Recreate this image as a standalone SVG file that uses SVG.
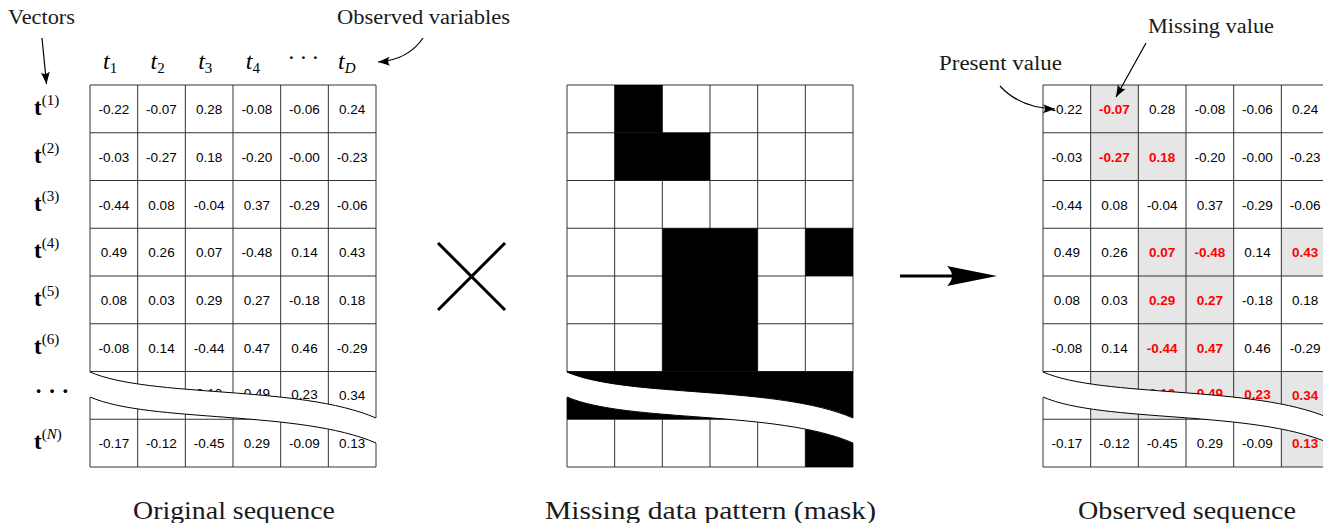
<svg xmlns="http://www.w3.org/2000/svg" xmlns:xlink="http://www.w3.org/1999/xlink" width="1323" height="523" viewBox="0 0 1323 523">
<style>
.num{font-family:"Liberation Sans",Arial,sans-serif;font-size:13.5px;text-anchor:middle;fill:#000}
.miss{font-weight:bold;fill:#ff0000}
.lbl{font-family:"Liberation Serif","Times New Roman",serif;font-size:20px;fill:#1a1a1a}
.cap{font-family:"Liberation Serif","Times New Roman",serif;font-size:26px;fill:#1a1a1a}
.hd{font-family:"Liberation Serif","Times New Roman",serif;font-size:24px;font-style:italic;fill:#000}
.sub{font-size:15px}
.rl{font-family:"Liberation Serif","Times New Roman",serif;font-size:23px;font-weight:bold;fill:#000}
.sup{font-size:15px;font-weight:normal}
.grid{fill:none;stroke:#333;stroke-width:1}
.wavefill{fill:#fff;stroke:none}
.waveline{fill:none;stroke:#000;stroke-width:1}
.conn{fill:none;stroke:#000;stroke-width:1.2}
.gray{fill:#e6e6e6}
.blk{fill:#000}
</style>
<defs>
<marker id="ah" markerUnits="userSpaceOnUse" markerWidth="16" markerHeight="12" refX="0" refY="0" viewBox="-13 -6 14 12" orient="auto">
<path d="M0,0 L-12,-4.5 Q-8,0 -12,4.5 Z" fill="#000"/>
</marker>
<path id="gridp" class="grid" d="M0,0V382M47.67,0V382M95.33,0V382M143,0V382M190.67,0V382M238.33,0V382M286,0V382M0,0H286M0,47.75H286M0,95.5H286M0,143.25H286M0,191H286M0,238.75H286M0,286.5H286M0,334.25H286M0,382H286"/>
<g id="wave">
<path class="wavefill" d="M-1,287 C60,313 210,300 287,333 L287,358.5 C210,325 60,338 -1,312 Z"/>
<path class="waveline" d="M0,287 C60,313 210,300 286,333 M286,358 C210,325 60,338 0,312"/>
</g>
</defs>

<g id="label-vectors"><text class="lbl" x="8" y="24" textLength="67" lengthAdjust="spacingAndGlyphs">Vectors</text></g>
<g id="label-observed-variables"><text class="lbl" x="337" y="24" textLength="173" lengthAdjust="spacingAndGlyphs">Observed variables</text></g>
<g id="label-missing-value"><text class="lbl" x="1148" y="33" textLength="126" lengthAdjust="spacingAndGlyphs">Missing value</text></g>
<g id="label-present-value"><text class="lbl" x="939" y="70" textLength="123" lengthAdjust="spacingAndGlyphs">Present value</text></g>

<g id="column-headers">
<text class="hd" x="103" y="69">t<tspan class="sub" font-style="normal" dy="4">1</tspan></text>
<text class="hd" x="150.5" y="69">t<tspan class="sub" font-style="normal" dy="4">2</tspan></text>
<text class="hd" x="198.2" y="69">t<tspan class="sub" font-style="normal" dy="4">3</tspan></text>
<text class="hd" x="245.8" y="69">t<tspan class="sub" font-style="normal" dy="4">4</tspan></text>
<text class="hd" x="303" y="65" text-anchor="middle" font-style="normal">· · ·</text>
<text class="hd" x="338" y="69">t<tspan class="sub" dy="4">D</tspan></text>
</g>

<g id="row-labels">
<text class="rl" x="34" y="115">t<tspan class="sup" dy="-10">(1)</tspan></text>
<text class="rl" x="34" y="163">t<tspan class="sup" dy="-10">(2)</tspan></text>
<text class="rl" x="34" y="211">t<tspan class="sup" dy="-10">(3)</tspan></text>
<text class="rl" x="34" y="258">t<tspan class="sup" dy="-10">(4)</tspan></text>
<text class="rl" x="34" y="306">t<tspan class="sup" dy="-10">(5)</tspan></text>
<text class="rl" x="34" y="354">t<tspan class="sup" dy="-10">(6)</tspan></text>
<text class="rl" x="52" y="399" text-anchor="middle" font-weight="normal">· · ·</text>
<text class="rl" x="34" y="449">t<tspan class="sup" dy="-10">(<tspan font-style="italic">N</tspan>)</tspan></text>
</g>

<g id="original-sequence">
<rect x="90" y="85" width="286" height="382" fill="#fff"/>
<use xlink:href="#gridp" href="#gridp" transform="translate(90,85)"/>
<g class="num">
<text x="113.8" y="114">-0.22</text><text x="161.5" y="114">-0.07</text><text x="209.2" y="114">0.28</text><text x="256.8" y="114">-0.08</text><text x="304.5" y="114">-0.06</text><text x="352.2" y="114">0.24</text>
<text x="113.8" y="161.7">-0.03</text><text x="161.5" y="161.7">-0.27</text><text x="209.2" y="161.7">0.18</text><text x="256.8" y="161.7">-0.20</text><text x="304.5" y="161.7">-0.00</text><text x="352.2" y="161.7">-0.23</text>
<text x="113.8" y="209.5">-0.44</text><text x="161.5" y="209.5">0.08</text><text x="209.2" y="209.5">-0.04</text><text x="256.8" y="209.5">0.37</text><text x="304.5" y="209.5">-0.29</text><text x="352.2" y="209.5">-0.06</text>
<text x="113.8" y="257.2">0.49</text><text x="161.5" y="257.2">0.26</text><text x="209.2" y="257.2">0.07</text><text x="256.8" y="257.2">-0.48</text><text x="304.5" y="257.2">0.14</text><text x="352.2" y="257.2">0.43</text>
<text x="113.8" y="305">0.08</text><text x="161.5" y="305">0.03</text><text x="209.2" y="305">0.29</text><text x="256.8" y="305">0.27</text><text x="304.5" y="305">-0.18</text><text x="352.2" y="305">0.18</text>
<text x="113.8" y="352.7">-0.08</text><text x="161.5" y="352.7">0.14</text><text x="209.2" y="352.7">-0.44</text><text x="256.8" y="352.7">0.47</text><text x="304.5" y="352.7">0.46</text><text x="352.2" y="352.7">-0.29</text>
<text x="161.5" y="398">0.20</text><text x="209.2" y="398">0.10</text><text x="256.8" y="398">0.49</text><text x="304.5" y="399">0.23</text><text x="352.2" y="399.5">0.34</text>
<text x="113.8" y="448.2">-0.17</text><text x="161.5" y="448.2">-0.12</text><text x="209.2" y="448.2">-0.45</text><text x="256.8" y="448.2">0.29</text><text x="304.5" y="448.2">-0.09</text><text x="352.2" y="448.2">0.13</text>
</g>
<use xlink:href="#wave" href="#wave" transform="translate(90,85)"/>
</g>

<g id="mask">
<rect x="567" y="85" width="286" height="382" fill="#fff"/>
<use xlink:href="#gridp" href="#gridp" transform="translate(567,85)"/>
<rect class="blk" x="614.67" y="85" width="47.67" height="47.75"/>
<rect class="blk" x="614.67" y="132.75" width="95.33" height="47.75"/>
<rect class="blk" x="662.33" y="228.25" width="95.33" height="143.25"/>
<rect class="blk" x="805.33" y="228.25" width="47.67" height="47.75"/>
<rect class="blk" x="567" y="371.5" width="286" height="47.75"/>
<rect class="blk" x="805.33" y="419.25" width="47.67" height="47.75"/>
<use xlink:href="#wave" href="#wave" transform="translate(567,85)"/>
</g>

<g id="observed-sequence">
<rect x="1043" y="85" width="286" height="382" fill="#fff"/>
<rect class="gray" x="1090.67" y="85" width="47.67" height="47.75"/>
<rect class="gray" x="1090.67" y="132.75" width="95.33" height="47.75"/>
<rect class="gray" x="1138.33" y="228.25" width="95.33" height="143.25"/>
<rect class="gray" x="1281.33" y="228.25" width="47.67" height="47.75"/>
<rect class="gray" x="1090.67" y="371.5" width="238.33" height="47.75"/>
<rect class="gray" x="1281.33" y="419.25" width="47.67" height="47.75"/>
<use xlink:href="#gridp" href="#gridp" transform="translate(1043,85)"/>
<g class="num">
<text x="1066.8" y="114">-0.22</text><text class="miss" x="1114.5" y="114">-0.07</text><text x="1162.2" y="114">0.28</text><text x="1209.8" y="114">-0.08</text><text x="1257.5" y="114">-0.06</text><text x="1305.2" y="114">0.24</text>
<text x="1066.8" y="161.7">-0.03</text><text class="miss" x="1114.5" y="161.7">-0.27</text><text class="miss" x="1162.2" y="161.7">0.18</text><text x="1209.8" y="161.7">-0.20</text><text x="1257.5" y="161.7">-0.00</text><text x="1305.2" y="161.7">-0.23</text>
<text x="1066.8" y="209.5">-0.44</text><text x="1114.5" y="209.5">0.08</text><text x="1162.2" y="209.5">-0.04</text><text x="1209.8" y="209.5">0.37</text><text x="1257.5" y="209.5">-0.29</text><text x="1305.2" y="209.5">-0.06</text>
<text x="1066.8" y="257.2">0.49</text><text x="1114.5" y="257.2">0.26</text><text class="miss" x="1162.2" y="257.2">0.07</text><text class="miss" x="1209.8" y="257.2">-0.48</text><text x="1257.5" y="257.2">0.14</text><text class="miss" x="1305.2" y="257.2">0.43</text>
<text x="1066.8" y="305">0.08</text><text x="1114.5" y="305">0.03</text><text class="miss" x="1162.2" y="305">0.29</text><text class="miss" x="1209.8" y="305">0.27</text><text x="1257.5" y="305">-0.18</text><text x="1305.2" y="305">0.18</text>
<text x="1066.8" y="352.7">-0.08</text><text x="1114.5" y="352.7">0.14</text><text class="miss" x="1162.2" y="352.7">-0.44</text><text class="miss" x="1209.8" y="352.7">0.47</text><text x="1257.5" y="352.7">0.46</text><text x="1305.2" y="352.7">-0.29</text>
<text class="miss" x="1114.5" y="398">0.20</text><text class="miss" x="1162.2" y="398">0.10</text><text class="miss" x="1209.8" y="398">0.49</text><text class="miss" x="1257.5" y="399">0.23</text><text class="miss" x="1305.2" y="399.5">0.34</text>
<text x="1066.8" y="448.2">-0.17</text><text x="1114.5" y="448.2">-0.12</text><text x="1162.2" y="448.2">-0.45</text><text x="1209.8" y="448.2">0.29</text><text x="1257.5" y="448.2">-0.09</text><text class="miss" x="1305.2" y="448.2">0.13</text>
</g>
<use xlink:href="#wave" href="#wave" transform="translate(1043,85)"/>
</g>

<g id="operator-times">
<path d="M438,243 L505,310 M505,243 L438,310" stroke="#000" stroke-width="3" fill="none"/>
</g>

<g id="connectors">
<path class="conn" d="M42,38 L46.5,84" marker-end="url(#ah)"/>
<path class="conn" d="M423,38 Q408,60 378,62" marker-end="url(#ah)"/>
<path class="conn" d="M1000,86 Q1020,108 1055,109" marker-end="url(#ah)"/>
<path class="conn" d="M1146,43 L1116,97" marker-end="url(#ah)"/>
<path d="M900,276 L955,276" stroke="#000" stroke-width="3" fill="none"/>
<path d="M997,276 L947,266 Q957,276 947,286 Z" fill="#000"/>
</g>

<g id="captions">
<text class="cap" x="133" y="519" textLength="202" lengthAdjust="spacingAndGlyphs">Original sequence</text>
<text class="cap" x="545" y="519" textLength="331" lengthAdjust="spacingAndGlyphs">Missing data pattern (mask)</text>
<text class="cap" x="1078" y="519" textLength="218" lengthAdjust="spacingAndGlyphs">Observed sequence</text>
</g>
</svg>
